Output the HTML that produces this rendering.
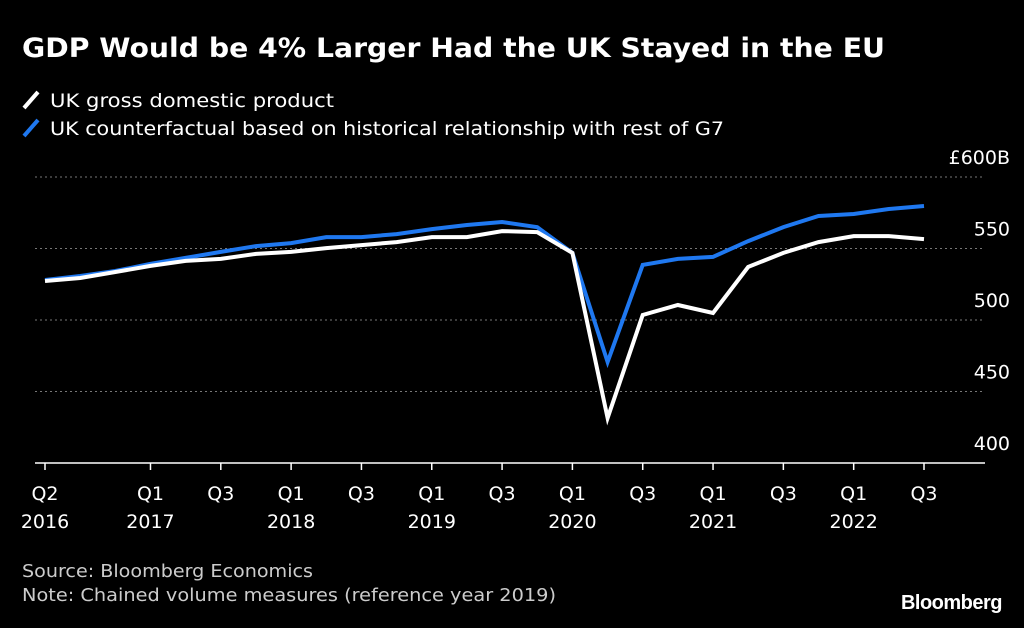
<!DOCTYPE html>
<html><head><meta charset="utf-8"><style>
body{margin:0;background:#000;width:1024px;height:623px;overflow:hidden;font-family:"Liberation Sans",sans-serif;color:#fff}
svg text{font-family:"DejaVu Sans","Liberation Sans",sans-serif}
</style></head><body>
<svg width="1024" height="623">
<text x="22" y="57" font-size="27" font-weight="bold" fill="#fff" textLength="863" lengthAdjust="spacingAndGlyphs">GDP Would be 4% Larger Had the UK Stayed in the EU</text>
<g>
<line x1="24" y1="108" x2="38" y2="92" stroke="#fff" stroke-width="4"/>
<text x="50" y="107" font-size="19" fill="#fff" textLength="284" lengthAdjust="spacingAndGlyphs">UK gross domestic product</text>
<line x1="24" y1="136" x2="38" y2="120" stroke="#1f78f0" stroke-width="4"/>
<text x="50" y="135" font-size="19" fill="#fff" textLength="674" lengthAdjust="spacingAndGlyphs">UK counterfactual based on historical relationship with rest of G7</text>
</g>
<g id="grid"></g><g id="xaxis"></g><g id="series"></g>
<text x="22" y="577" font-size="18" fill="#ccc" textLength="291" lengthAdjust="spacingAndGlyphs">Source: Bloomberg Economics</text>
<text x="22" y="601" font-size="18" fill="#ccc" textLength="534" lengthAdjust="spacingAndGlyphs">Note: Chained volume measures (reference year 2019)</text>
<text x="1002" y="609" font-size="20" font-weight="bold" fill="#fff" text-anchor="end" style="font-family:'Liberation Sans',sans-serif" letter-spacing="-0.5">Bloomberg</text>
</svg>
<script>
const gdp=[527.3,529.4,533.6,537.8,541.3,542.7,546.2,547.6,550.3,552.4,554.5,558,558,562.2,561.5,546.9,431.5,503.5,510.5,504.9,537.1,546.9,554.5,558.7,558.7,556.6];
const counterfactual=[528,530.8,534.3,539.2,543.4,547.6,551.7,553.8,558,558,560.1,563.6,566.4,568.5,565,546.9,470.6,538.5,542.7,544.1,555.2,565,572.7,574.1,577.6,579.7];
const yTicks=[400,450,500,550,600];
const yLabels=["400","450","500","550","£600B"];
const xTickLabels=[["Q2","2016"],["Q1","2017"],["Q3",""],["Q1","2018"],["Q3",""],["Q1","2019"],["Q3",""],["Q1","2020"],["Q3",""],["Q1","2021"],["Q3",""],["Q1","2022"],["Q3",""]];
const xTickIdx=[0,3,5,7,9,11,13,15,17,19,21,23,25];
const NS="http://www.w3.org/2000/svg";
const x=i=>45+i*35.16;
const y=v=>463-(v-400)*1.43;
function mk(t,a,p){const e=document.createElementNS(NS,t);for(const k in a)e.setAttribute(k,a[k]);p.appendChild(e);return e;}
const G=document.getElementById('grid');
yTicks.forEach((v,i)=>{
 if(v>400){const l=mk('line',{x1:35,x2:985,y1:y(v),y2:y(v),stroke:'#777','stroke-width':1,'stroke-dasharray':'2,3'},G);
 
 }
 const t=mk('text',{x:1010,y:y(v)-13,'font-size':19,fill:'#fff','text-anchor':'end'},G);t.textContent=yLabels[i];
 
 
});
const X=document.getElementById('xaxis');
const ax=mk('line',{x1:35,x2:985,y1:463,y2:463,stroke:'#fff','stroke-width':1.5},X);


xTickIdx.forEach((qi,i)=>{
 const tk=mk('line',{x1:x(qi),x2:x(qi),y1:463,y2:470,stroke:'#fff','stroke-width':1.5},X);
 
 
 const t=mk('text',{x:x(qi),y:500,'font-size':19,fill:'#fff','text-anchor':'middle'},X);t.textContent=xTickLabels[i][0];
 
 
 if(xTickLabels[i][1]){const t2=mk('text',{x:x(qi),y:528,'font-size':19,fill:'#fff','text-anchor':'middle'},X);t2.textContent=xTickLabels[i][1];
 
 }
});
const S=document.getElementById('series');
const pts=a=>a.map((v,i)=>x(i).toFixed(1)+','+y(v).toFixed(1)).join(' ');
const b=mk('polyline',{points:pts(counterfactual),fill:'none',stroke:'#1f78f0','stroke-width':4,'stroke-linejoin':'miter'},S);


const w=mk('polyline',{points:pts(gdp),fill:'none',stroke:'#fff','stroke-width':4,'stroke-linejoin':'miter'},S);


</script>
</body></html>
